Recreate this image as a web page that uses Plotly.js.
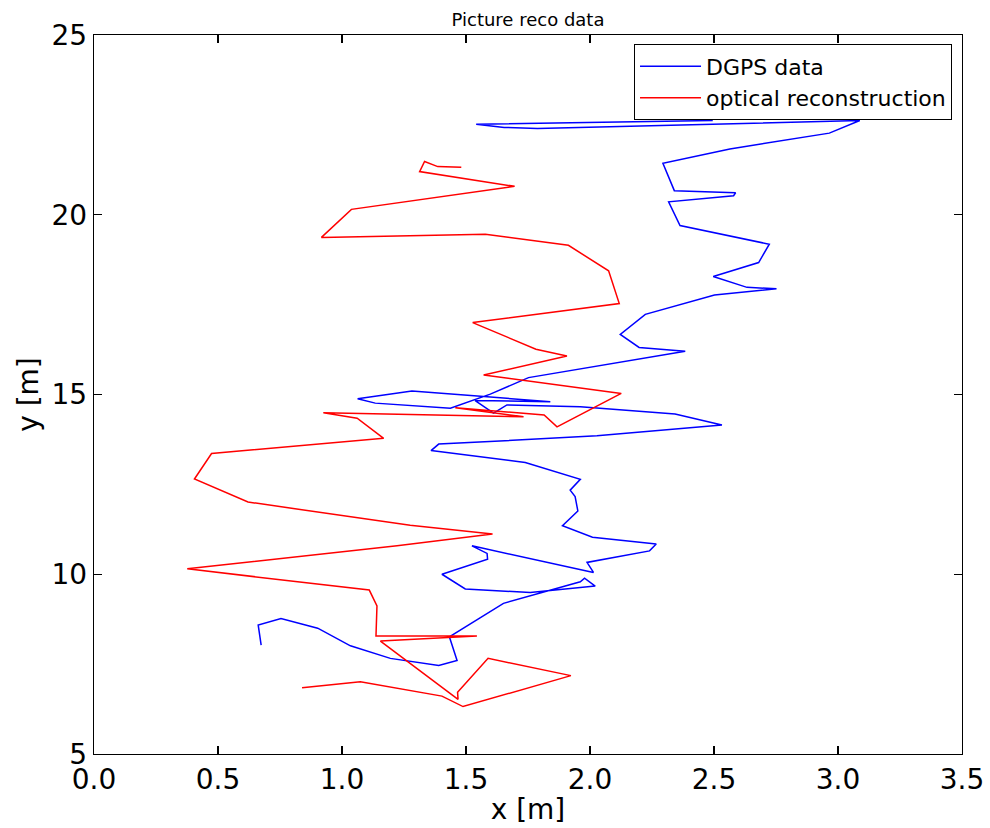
<!DOCTYPE html>
<html>
<head>
<meta charset="utf-8">
<script src="https://cdn.plot.ly/plotly-3.0.1.min.js"></script>
<style>html,body{margin:0;padding:0;background:#fff;}#chart{width:990px;height:828px;}</style>
</head>
<body>
<div id="chart"></div>
<script>
var chartTitle = "Picture reco data";
var xTitle = "x [m]";
var yTitle = "y [m]";
var seriesNames = ["DGPS data", "optical reconstruction"];
var xTicks = [0.0, 0.5, 1.0, 1.5, 2.0, 2.5, 3.0, 3.5];
var yTicks = [5, 10, 15, 20, 25];

var dgpsX = [2.495, 1.541, 1.654, 1.788, 3.088, 2.965, 2.564, 2.294, 2.340, 2.587, 2.579, 2.317, 2.363, 2.723, 2.680, 2.497, 2.633, 2.752, 2.502, 2.223, 2.122, 2.198, 2.384, 1.752, 1.598, 1.437, 1.134, 1.063, 1.282, 1.840, 1.537, 1.611, 1.665, 1.961, 2.343, 2.532, 2.028, 1.390, 1.359, 1.739, 1.961, 1.920, 1.940, 1.951, 1.889, 2.010, 2.267, 2.240, 1.988, 2.014, 1.524, 1.585, 1.587, 1.403, 1.497, 1.759, 2.021, 1.978, 1.961, 1.651, 1.433, 1.464, 1.390, 1.195, 1.034, 0.902, 0.754, 0.662, 0.674];
var dgpsY = [22.62, 22.52, 22.43, 22.40, 22.62, 22.27, 21.83, 21.43, 20.67, 20.61, 20.53, 20.36, 19.70, 19.18, 18.67, 18.28, 17.98, 17.94, 17.77, 17.23, 16.67, 16.31, 16.20, 15.47, 15.01, 14.62, 14.76, 14.88, 15.10, 14.80, 14.83, 14.48, 14.71, 14.66, 14.46, 14.15, 13.85, 13.62, 13.44, 13.11, 12.64, 12.34, 12.16, 11.76, 11.35, 11.03, 10.84, 10.65, 10.33, 10.05, 10.79, 10.58, 10.42, 10.00, 9.59, 9.49, 9.67, 9.89, 9.79, 9.19, 8.26, 7.60, 7.46, 7.66, 8.01, 8.50, 8.77, 8.59, 8.03];

var recoX = [0.839, 1.074, 1.403, 1.488, 1.923, 1.589, 1.466, 1.468, 1.155, 1.544, 1.137, 1.141, 1.110, 0.376, 1.222, 1.607, 1.275, 0.621, 0.405, 0.474, 1.168, 1.061, 0.925, 1.732, 1.457, 1.815, 1.867, 2.126, 1.571, 1.907, 1.782, 1.527, 2.118, 2.075, 1.913, 1.578, 0.917, 1.038, 1.696, 1.313, 1.333, 1.386, 1.481];
var recoY = [6.84, 7.01, 6.61, 6.32, 7.18, 7.66, 6.72, 6.52, 8.14, 8.28, 8.28, 9.12, 9.56, 10.15, 10.79, 11.12, 11.36, 12.01, 12.65, 13.36, 13.78, 14.34, 14.49, 14.38, 14.63, 14.43, 14.10, 15.03, 15.54, 16.07, 16.26, 17.00, 17.53, 18.44, 19.15, 19.46, 19.37, 20.15, 20.79, 21.20, 21.48, 21.34, 21.32];

var traces = [
  {x: dgpsX, y: dgpsY, type: 'scatter', mode: 'lines', name: seriesNames[0],
   line: {color: '#0000ff', width: 1.5}},
  {x: recoX, y: recoY, type: 'scatter', mode: 'lines', name: seriesNames[1],
   line: {color: '#ff0000', width: 1.5}}
];

var fontFam = 'DejaVu Sans, sans-serif';
var axisCommon = {
  showline: true, linecolor: '#000', linewidth: 1.3, mirror: 'allticks',
  ticks: 'inside', ticklen: 8, tickwidth: 1.2, tickcolor: '#000',
  showgrid: false, zeroline: false,
  tickfont: {family: fontFam, size: 28, color: '#000'}
};

var layout = {
  width: 990, height: 828,
  margin: {l: 94, r: 28, t: 35, b: 74},
  paper_bgcolor: '#fff', plot_bgcolor: '#fff',
  showlegend: true,
  title: {text: chartTitle, font: {family: fontFam, size: 18, color: '#000'},
          x: 0.5, xref: 'paper', y: 1, yref: 'container', yanchor: 'top', pad: {t: 13}},
  xaxis: Object.assign({}, axisCommon, {
    range: [0, 3.5], tickvals: xTicks, tickformat: '.1f',
    title: {text: xTitle, font: {family: fontFam, size: 28, color: '#000'}, standoff: 4}
  }),
  yaxis: Object.assign({}, axisCommon, {
    range: [5, 25], tickvals: yTicks,
    title: {text: yTitle, font: {family: fontFam, size: 28, color: '#000'}, standoff: 4}
  }),
  legend: {
    x: 0.9885, y: 0.987, xanchor: 'right', yanchor: 'top',
    bgcolor: '#fff', bordercolor: '#000', borderwidth: 1,
    itemwidth: 61,
    font: {family: fontFam, size: 22, color: '#000'}
  }
};

Plotly.newPlot('chart', traces, layout, {displayModeBar: false, staticPlot: true});
</script>
</body>
</html>
